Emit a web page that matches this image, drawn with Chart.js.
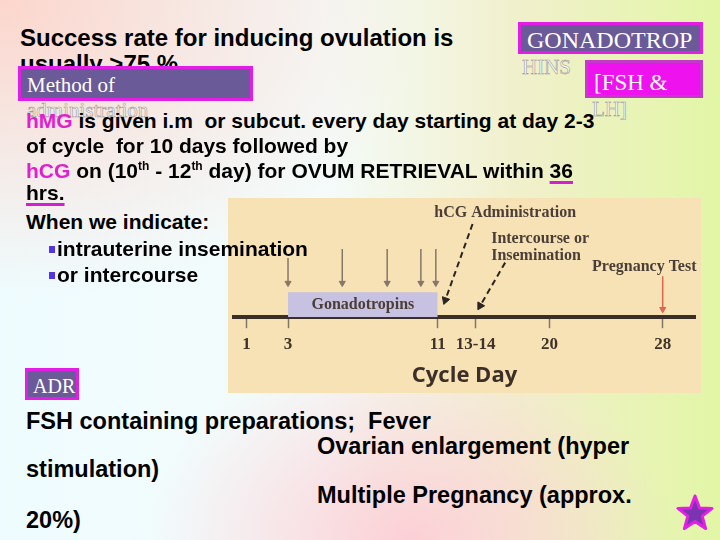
<!DOCTYPE html>
<html>
<head>
<meta charset="utf-8">
<script src="https://cdn.jsdelivr.net/npm/chart.js@4/dist/chart.umd.min.js"></script>
<style>
  body { margin: 0; }
  #slide {
    position: relative; width: 720px; height: 540px; overflow: hidden;
    font-family: "Liberation Sans", Arial, sans-serif; font-weight: bold; color: #000;
    background:
      radial-gradient(ellipse 420px 300px at 0% 0%, rgba(252,214,204,1) 0%, rgba(252,214,204,0) 100%),
      radial-gradient(ellipse 260px 200px at 57% 100%, rgba(252,208,214,1) 0%, rgba(252,208,214,0) 100%),
      linear-gradient(to right, #eefcff 0%, #f4fbfa 45%, #f1f0cc 72%, #e2f6a6 100%);
  }
  .t { position: absolute; white-space: pre; line-height: 1; z-index: 3; }
  .s24 { font-size: 24px; }
  .s23 { font-size: 23.5px; }
  .s21 { font-size: 21px; }
  .mag { color: #e21fcf; }
  .uline { text-decoration: underline; text-decoration-color: #d21fd2; text-decoration-thickness: 3px; text-underline-offset: 3px; }
  sup { font-size: 12px; vertical-align: 8px; line-height: 0; }
  .box {
    position: absolute; box-sizing: border-box; border: 3px solid #e21ee6; background: #6a5a98;
    color: #fff; font-family: "Liberation Serif", "Times New Roman", serif; font-weight: normal;
    line-height: 1; white-space: pre; z-index: 2; padding-left: 6px;
  }
  .ghost {
    position: absolute; white-space: pre; line-height: 1; z-index: 1;
    font-family: "Liberation Serif", "Times New Roman", serif; font-weight: normal;
    color: #fdfdf6; -webkit-text-stroke: 0.6px #9a9a9a;
  }
  .bullet { position: absolute; width: 6px; height: 7px; background: #5634e6; z-index: 3; }
  #diagram { position: absolute; left: 228px; top: 198px; width: 473px; height: 195px; background: #f7e2b6; z-index: 0; }
  #star { position: absolute; left: 674px; top: 493px; z-index: 3; }
</style>
</head>
<body>
<div id="slide">
  <div id="diagram"><canvas id="cycleChart" width="473" height="195"></canvas></div>

  <div class="t s24" style="left:20px; top:26px;">Success rate for inducing ovulation is</div>
  <div class="t s24" style="left:20px; top:52px; z-index:1;">usually &gt;75 %</div>

  <div class="box" style="left:18px; top:66px; width:235px; height:35px; font-size:21px; padding-top:6px;">Method of</div>
  <div class="ghost" style="left:27px; top:100px; font-size:21px;">administration</div>

  <div class="box" style="left:518px; top:22px; width:185px; height:32px; font-size:24px; padding-top:3px;">GONADOTROP</div>
  <div class="ghost" style="left:522px; top:57px; font-size:21px;">HINS</div>
  <div class="box" style="left:585px; top:60px; width:118px; height:38px; font-size:23px; padding-top:8px; background:#ee12ee; border-color:#c43ac8;">[FSH &amp;</div>
  <div class="ghost" style="left:592px; top:99px; font-size:21px;">LH]</div>

  <div class="t s21" style="left:26px; top:110px;"><span class="mag">hMG</span> is given i.m  or subcut. every day starting at day 2-3</div>
  <div class="t s21" style="left:26px; top:135px;">of cycle  for 10 days followed by</div>
  <div class="t s21" style="left:26px; top:160px;"><span class="mag">hCG</span> on (10<sup>th</sup> - 12<sup>th</sup> day) for OVUM RETRIEVAL within <span class="uline">36</span></div>
  <div class="t s21" style="left:26px; top:182px;"><span class="uline">hrs.</span></div>

  <div class="t s21" style="left:26px; top:211px;">When we indicate:</div>
  <div class="bullet" style="left:49px; top:246px;"></div>
  <div class="t s21" style="left:57px; top:238px;">intrauterine insemination</div>
  <div class="bullet" style="left:49px; top:272px;"></div>
  <div class="t s21" style="left:57px; top:264px;">or intercourse</div>

  <div class="box" style="left:25px; top:368px; width:54px; height:32px; font-size:20px; padding-top:5px; padding-left:5px;">ADR</div>

  <div class="t s23" style="left:26px; top:410px;">FSH containing preparations;  Fever</div>
  <div class="t s23" style="left:317px; top:435px;">Ovarian enlargement (hyper</div>
  <div class="t s23" style="left:26px; top:458px;">stimulation)</div>
  <div class="t s23" style="left:317px; top:484px;">Multiple Pregnancy (approx.</div>
  <div class="t s23" style="left:26px; top:509px;">20%)</div>

  <svg id="star" width="42" height="42" viewBox="-21 -21 42 42">
    <polygon points="0,-18 4.5,-6 17,-5.6 7.2,2.2 10.6,14.6 0,7.4 -10.6,14.6 -7.2,2.2 -17,-5.6 -4.5,-6"
             fill="#7a34b0" stroke="#e41ee4" stroke-width="3" stroke-linejoin="round"/>
  </svg>
</div>

<script>
// Cycle day axis
const cycleDays = [1, 3, 11, 13.5, 20, 28];
const cycleDayLabels = ['1', '3', '11', '13-14', '20', '28'];

// The illustration is not drawn to scale: where each day sits along the axis (0..1)
const dayStops = [0, 1, 3, 11, 13.5, 20, 28, 30];
const stopFractions = [0, 0.028, 0.118, 0.442, 0.524, 0.684, 0.929, 1];

// Events (day, height above the axis)
const gonadotropinDays = [3, 11];
const gonadotropinLevel = 2.2;
const injectionDays = [3, 5.9, 8.3, 10.1, 10.9];
const injectionFrom = [5.2, 6, 6, 6, 6];
const injectionTo = 3;
const hcgArrow = [[13.3, 8.2], [11.5, 1.5]];
const inseminationArrow = [[16.1, 4.8], [13.9, 1.0]];
const pregnancyTestDay = 28;
const pregnancyArrow = [3.6, 0.7];

const diagramNotes = [
    { text: 'Gonadotropins', day: 7, level: 1.1, align: 'center' },
    { text: 'hCG Administration', day: 16.1, level: 9.2, align: 'center' },
    { text: 'Intercourse or', day: 14.87, level: 6.85, align: 'left' },
    { text: 'Insemination', day: 14.87, level: 5.4, align: 'left' },
    { text: 'Pregnancy Test', day: 26.7, level: 4.4, align: 'center' }
];

// Linear scale with piecewise spacing, so the days land where the drawing puts them
class TimelineScale extends Chart.LinearScale {
    static id = 'timeline';
    static defaults = Chart.LinearScale.defaults;

    getPixelForValue(value) {
        const v = Math.min(Math.max(value, dayStops[0]), dayStops[dayStops.length - 1]);
        let i = 1;
        while (i < dayStops.length - 1 && v > dayStops[i]) i++;
        const t = (v - dayStops[i - 1]) / (dayStops[i] - dayStops[i - 1]);
        return this.getPixelForDecimal(stopFractions[i - 1] + t * (stopFractions[i] - stopFractions[i - 1]));
    }

    getValueForPixel(pixel) {
        const f = this.getDecimalForPixel(pixel);
        let i = 1;
        while (i < stopFractions.length - 1 && f > stopFractions[i]) i++;
        const t = (f - stopFractions[i - 1]) / (stopFractions[i] - stopFractions[i - 1]);
        return dayStops[i - 1] + t * (dayStops[i] - dayStops[i - 1]);
    }
}
Chart.register(TimelineScale);

const inkColor = '#4a3e37';

function headRotation(ctx) {
    const pts = ctx.dataset.data;
    const { x, y } = ctx.chart.scales;
    const dx = x.getPixelForValue(pts[1].x) - x.getPixelForValue(pts[0].x);
    const dy = y.getPixelForValue(pts[1].y) - y.getPixelForValue(pts[0].y);
    return Math.atan2(dy, dx) * 180 / Math.PI + 90;
}

function arrow(from, to, color, width, dash, head) {
    return {
        type: 'line',
        data: [{ x: from[0], y: from[1] }, { x: to[0], y: to[1] }],
        borderColor: color,
        borderWidth: width,
        borderDash: dash,
        pointStyle: 'triangle',
        pointRadius: ctx => ctx.dataIndex === 1 ? head : 0,
        pointRotation: headRotation,
        pointBackgroundColor: color,
        pointBorderColor: color,
        pointBorderWidth: 1,
        fill: false
    };
}

const datasets = [
    {
        type: 'line',
        data: [
            { x: gonadotropinDays[0], y: 0 },
            { x: gonadotropinDays[0], y: gonadotropinLevel },
            { x: gonadotropinDays[1], y: gonadotropinLevel },
            { x: gonadotropinDays[1], y: 0 }
        ],
        borderWidth: 0,
        borderColor: 'rgba(0,0,0,0)',
        backgroundColor: '#c7c2e2',
        pointRadius: 0,
        fill: 'origin'
    }
];
injectionDays.forEach((d, i) => {
    datasets.push(arrow([d, injectionFrom[i]], [d, injectionTo], '#85766a', 1.5, [], 3.5));
});
datasets.push(arrow(hcgArrow[0], hcgArrow[1], '#2b2421', 2, [6, 4], 4.5));
datasets.push(arrow(inseminationArrow[0], inseminationArrow[1], '#2b2421', 2, [6, 4], 4.5));
datasets.push(arrow([pregnancyTestDay, pregnancyArrow[0]], [pregnancyTestDay, pregnancyArrow[1]], '#e0644e', 1.5, [], 3.5));

const notesPlugin = {
    id: 'diagramNotes',
    afterDatasetsDraw(chart) {
        const { ctx, scales: { x, y } } = chart;
        ctx.save();
        ctx.fillStyle = inkColor;
        ctx.font = 'bold 16px "Liberation Serif", "Times New Roman", serif';
        ctx.textBaseline = 'middle';
        diagramNotes.forEach(n => {
            ctx.textAlign = n.align;
            ctx.fillText(n.text, x.getPixelForValue(n.day), y.getPixelForValue(n.level));
        });
        ctx.restore();
    }
};

new Chart(document.getElementById('cycleChart'), {
    data: { datasets: datasets },
    options: {
        responsive: false,
        animation: false,
        events: [],
        layout: { padding: { left: 0, right: 5, top: 0, bottom: 0 } },
        plugins: { legend: { display: false }, tooltip: { enabled: false } },
        elements: { line: { tension: 0 } },
        scales: {
            x: {
                type: 'timeline',
                min: 0,
                max: 30,
                z: 1,
                afterBuildTicks: axis => { axis.ticks = cycleDays.map(value => ({ value })); },
                grid: { drawOnChartArea: false, drawTicks: true, tickLength: 11, tickWidth: 1.5, tickColor: '#83746a' },
                border: { display: true, color: '#3a2f27', width: 4 },
                ticks: {
                    autoSkip: false,
                    maxRotation: 0,
                    padding: 6,
                    color: '#3e3229',
                    font: { family: '"Liberation Serif", "Times New Roman", serif', size: 17, weight: 'bold' },
                    callback: (value, index) => cycleDayLabels[index]
                },
                title: {
                    display: true,
                    text: 'Cycle Day',
                    color: '#3b2f27',
                    font: { family: '"Open Sans", sans-serif', size: 22, weight: 'bold' },
                    padding: { top: 2, bottom: 4 }
                }
            },
            y: { display: false, min: 0, max: 10 }
        }
    },
    plugins: [notesPlugin]
});
</script>
</body>
</html>
